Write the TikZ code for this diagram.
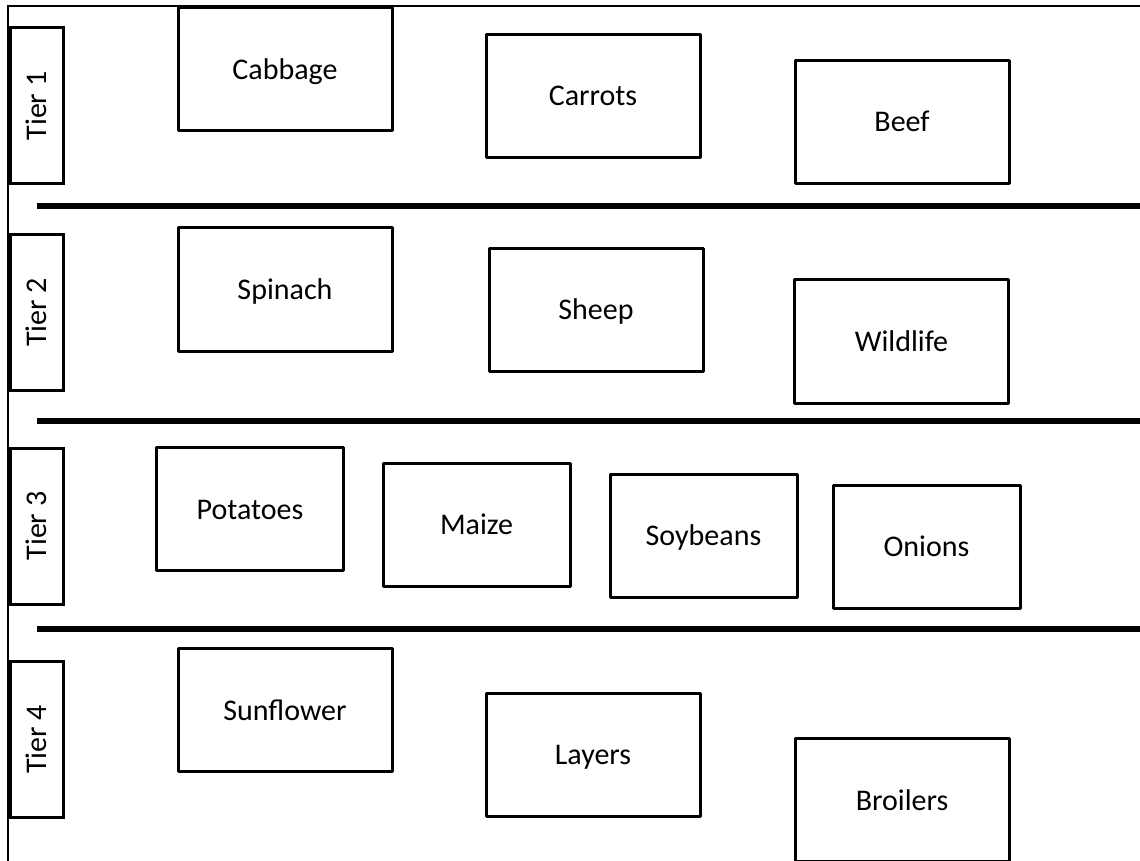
\documentclass[tikz,border=0pt]{standalone}
\usepackage{fontspec}
\setmainfont{Carlito}
\usepackage{tikz}
\usetikzlibrary{
	positioning
}

\tikzset{
	tier/.style={draw,line width=1.5pt,rotate=90,minimum width=78pt,minimum height=26.5pt,inner sep=0pt},
	crop/.style={draw,line width=1.5pt,line join=round,minimum width=107pt,minimum height=61.5pt,inner sep=0pt,
		text height=10pt,text depth=0pt},
	smallcrop/.style={crop,minimum width=93.5pt},
	divider/.style={line width=3pt}
}

\begin{document}
\begin{tikzpicture}[x=0.5pt,y=-0.5pt,font=\fontsize{15pt}{18pt}\selectfont]
		\useasboundingbox (0,0) rectangle (1140,861);

		% outer frame
		\draw[line width=0.8pt] (1140,6) -- (8,6) -- (8,861);

		\draw
			node[tier] (t1) at (36.5,106)   {Tier 1}
			node[tier] (t2) at (36.5,312.5) {Tier 2}
			node[tier] (t3) at (36.5,526)   {Tier 3}
			node[tier] (t4) at (36.5,739.5) {Tier 4}

			node[crop] (cabbage)  at (285,69.5)   {Cabbage}
			node[crop] (carrots)  at (593,96)     {Carrots}
			node[crop] (beef)     at (902,122)    {Beef}

			node[crop] (spinach)  at (285,289.5)  {Spinach}
			node[crop] (sheep)    at (596,310)    {Sheep}
			node[crop] (wildlife) at (901.5,341.5) {Wildlife}

			node[smallcrop] (potatoes) at (250,509)    {Potatoes}
			node[smallcrop] (maize)    at (476.5,524.5) {Maize}
			node[smallcrop] (soybeans) at (703.5,535.5) {Soybeans}
			node[smallcrop] (onions)   at (926.5,546.5) {Onions}

			node[crop] (sunflower) at (285,710)   {Sunflower}
			node[crop] (layers)    at (593,754.5) {Layers}
			node[crop] (broilers)  at (902,800)   {Broilers}
		;

		% tier dividers
		\foreach \y in {206,421,629}
			\draw[divider] (37,\y) -- (1140,\y);
	\end{tikzpicture}
\end{document}
